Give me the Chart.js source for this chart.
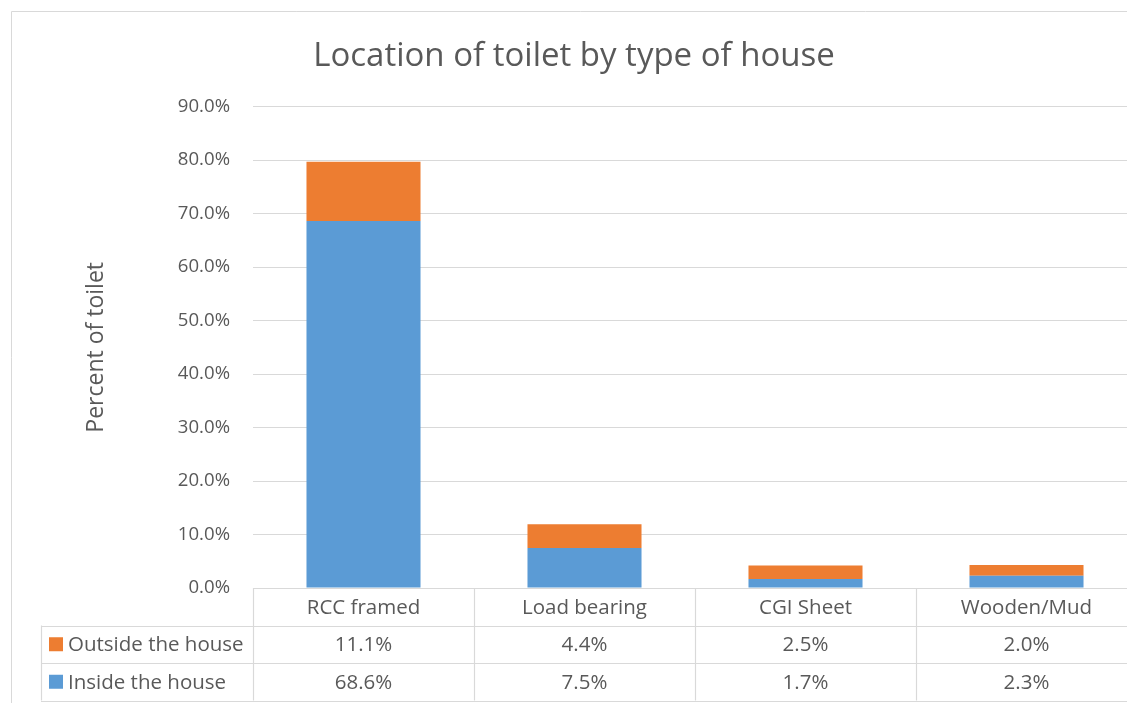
<!DOCTYPE html>
<html>
<head>
<meta charset="utf-8">
<script src="https://cdn.jsdelivr.net/npm/chart.js@4"></script>
<style>
  html, body { margin: 0; padding: 0; background: #ffffff; overflow: hidden; }
  #wrap { position: absolute; left: 0; top: 0; width: 1150px; height: 703px; }
</style>
</head>
<body>
<div id="wrap"><canvas id="c" width="1150" height="703"></canvas></div>
<script>
const categories = ['RCC framed', 'Load bearing', 'CGI Sheet', 'Wooden/Mud'];
const insideHouse = [68.6, 7.5, 1.7, 2.3];
const outsideHouse = [11.1, 4.4, 2.5, 2.0];
const seriesNames = ['Inside the house', 'Outside the house'];
const titleText = 'Location of toilet by type of house';
const yTitle = 'Percent of toilet';

const BLUE = '#5b9bd5';
const ORANGE = '#ed7d31';
const TEXT = '#595959';
const GRID = '#d9d9d9';
const FONT = "'Open Sans', sans-serif";

const fmt = v => v.toFixed(1) + '%';

const tablePlugin = {
  id: 'dataTable',
  beforeDraw(chart) {
    const ctx = chart.ctx;
    ctx.save();
    ctx.strokeStyle = GRID;
    ctx.lineWidth = 1;
    ctx.beginPath();
    ctx.moveTo(11.5, 703);
    ctx.lineTo(11.5, 11.5);
    ctx.lineTo(1150, 11.5);
    ctx.stroke();
    ctx.restore();
  },
  afterDraw(chart) {
    const ctx = chart.ctx;
    const x = chart.scales.x;
    const area = chart.chartArea;
    const colW = (area.right - area.left) / categories.length;
    const rowH = 37.5;
    const top = area.bottom;
    const legendLeft = 41;
    ctx.save();
    ctx.strokeStyle = GRID;
    ctx.lineWidth = 1.2;
    const hl = (y, x0, x1) => { ctx.beginPath(); ctx.moveTo(x0, y); ctx.lineTo(x1, y); ctx.stroke(); };
    const vl = (xx, y0, y1) => { ctx.beginPath(); ctx.moveTo(xx, y0); ctx.lineTo(xx, y1); ctx.stroke(); };
    hl(Math.round(top) + 0.5, area.left, area.right + 20);
    hl(Math.round(top + rowH) + 0.5, legendLeft, area.right + 20);
    hl(Math.round(top + 2 * rowH) + 0.5, legendLeft, area.right + 20);
    hl(Math.round(top + 3 * rowH) + 0.5, legendLeft, area.right + 20);
    vl(legendLeft + 0.5, top + rowH, top + 3 * rowH);
    for (let i = 0; i < categories.length; i++) {
      const cx = x.getPixelForValue(i);
      vl(Math.round(cx - colW / 2) + 0.5, top, top + 3 * rowH);
    }
    ctx.fillStyle = TEXT;
    ctx.font = "20.5px " + FONT;
    ctx.textAlign = 'center';
    ctx.textBaseline = 'middle';
    const rows = [
      { name: seriesNames[1], color: ORANGE, data: outsideHouse },
      { name: seriesNames[0], color: BLUE, data: insideHouse }
    ];
    for (let i = 0; i < categories.length; i++) {
      const cx = x.getPixelForValue(i);
      ctx.fillText(categories[i], cx, top + rowH / 2 + 1);
      rows.forEach((r, k) => {
        ctx.fillText(fmt(r.data[i]), cx, top + rowH * (k + 1.5) + 1);
      });
    }
    ctx.textAlign = 'left';
    rows.forEach((r, k) => {
      const cy = top + rowH * (k + 1.5);
      ctx.fillStyle = r.color;
      ctx.fillRect(49, cy - 7, 14, 14);
      ctx.fillStyle = TEXT;
      ctx.fillText(r.name, 68, cy + 1);
    });
    ctx.restore();
  }
};

new Chart(document.getElementById('c'), {
  type: 'bar',
  data: {
    labels: categories,
    datasets: [
      { label: seriesNames[0], data: insideHouse, backgroundColor: BLUE, borderWidth: 0 },
      { label: seriesNames[1], data: outsideHouse, backgroundColor: ORANGE, borderWidth: 0 }
    ]
  },
  options: {
    responsive: false,
    animation: false,
    events: [],
    layout: { padding: { top: 11, left: 11, right: 13, bottom: 0 } },
    datasets: { bar: { categoryPercentage: 1.0, barPercentage: 0.516 } },
    plugins: {
      legend: { display: false },
      tooltip: { enabled: false },
      title: {
        display: true,
        text: titleText,
        color: TEXT,
        font: { family: FONT, size: 33, weight: 'normal' },
        padding: { top: 26, bottom: 30 }
      }
    },
    scales: {
      x: {
        stacked: true,
        grid: { display: false },
        border: { display: false },
        ticks: { display: false },
        afterFit(s) { s.height = 115; }
      },
      y: {
        stacked: true,
        min: 0,
        max: 90,
        grid: { color: GRID, lineWidth: 1, drawTicks: false },
        border: { display: false },
        ticks: {
          stepSize: 10,
          color: TEXT,
          padding: 23,
          font: { family: FONT, size: 18.6 },
          callback: v => fmt(v)
        },
        title: {
          display: true,
          text: yTitle,
          color: TEXT,
          font: { family: FONT, size: 23 },
          padding: { top: 72, bottom: 0 }
        },
        afterFit(s) { s.width = 242; }
      }
    }
  },
  plugins: [tablePlugin]
});
</script>
</body>
</html>
